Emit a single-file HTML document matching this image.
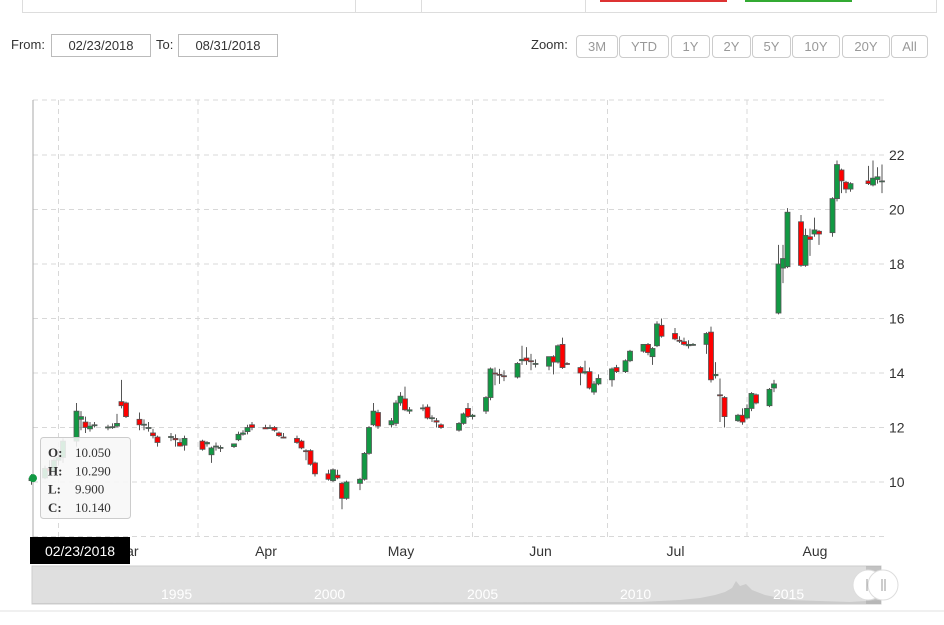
<!DOCTYPE html>
<html><head><meta charset="utf-8">
<style>
body{margin:0;background:#fff;font-family:"Liberation Sans",sans-serif;}
#wrap{position:relative;width:944px;height:625px;overflow:hidden;}
.inp{position:absolute;top:34px;height:21px;border:1px solid #bbb;font-size:13px;line-height:21px;text-align:center;color:#333;}
.lbl{position:absolute;top:37px;font-size:13px;color:#333;}
.zb{position:absolute;top:35px;height:21px;border:1px solid #ccc;border-radius:4px;font-size:13px;line-height:21px;text-align:center;color:#999;background:#fff;}
</style></head><body>
<div id="wrap">
<div style="position:absolute;left:22px;top:-2px;width:913px;height:14px;border:1px solid #ddd;border-top:none;background:#fff"></div>
<div style="position:absolute;left:355px;top:0;width:1px;height:12px;background:#ddd"></div>
<div style="position:absolute;left:421px;top:0;width:1px;height:12px;background:#ddd"></div>
<div style="position:absolute;left:585px;top:0;width:1px;height:12px;background:#ddd"></div>
<div style="position:absolute;left:600px;top:0;width:127px;height:2px;background:#d33"></div>
<div style="position:absolute;left:745px;top:0;width:107px;height:2px;background:#3a3"></div>

<div class="lbl" style="left:11px">From:</div>
<div class="inp" style="left:51px;width:98px">02/23/2018</div>
<div class="lbl" style="left:156px">To:</div>
<div class="inp" style="left:178px;width:98px">08/31/2018</div>
<div class="lbl" style="left:531px">Zoom:</div>
<div class="zb" style="left:576px;width:40px">3M</div>
<div class="zb" style="left:619px;width:48px">YTD</div>
<div class="zb" style="left:671px;width:37px">1Y</div>
<div class="zb" style="left:712px;width:37px">2Y</div>
<div class="zb" style="left:752px;width:37px">5Y</div>
<div class="zb" style="left:792px;width:46px">10Y</div>
<div class="zb" style="left:842px;width:46px">20Y</div>
<div class="zb" style="left:891px;width:35px">All</div>

<svg id="chart" width="944" height="625" style="position:absolute;left:0;top:0"></svg>
</div>
<script>
const dates=["02-23","02-26","02-27","02-28","03-01","03-02","03-05","03-06","03-07","03-08","03-09","03-12","03-13","03-14","03-15","03-16","03-19","03-20","03-21","03-22","03-23","03-26","03-27","03-28","03-29","04-02","04-03","04-04","04-05","04-06","04-09","04-10","04-11","04-12","04-13","04-16","04-17","04-18","04-19","04-20","04-23","04-24","04-25","04-26","04-27","04-30","05-01","05-02","05-03","05-04","05-07","05-08","05-09","05-10","05-11","05-14","05-15","05-16","05-17","05-18","05-21","05-22","05-23","05-24","05-25","05-29","05-30","05-31","06-01","06-04","06-05","06-06","06-07","06-08","06-11","06-12","06-13","06-14","06-15","06-18","06-19","06-20","06-21","06-22","06-25","06-26","06-27","06-28","06-29","07-02","07-03","07-05","07-06","07-09","07-10","07-11","07-12","07-13","07-16","07-17","07-18","07-19","07-20","07-23","07-24","07-25","07-26","07-27","07-30","07-31","08-01","08-02","08-03","08-06","08-07","08-08","08-09","08-10","08-13","08-14","08-15","08-16","08-17","08-20","08-21","08-22","08-23","08-24","08-28","08-29","08-30","08-31"];
const opens=[10.05,10.15,10.5,10.4,10.8,10.9,11.5,12.3,12.2,11.95,12.1,12.0,12.0,12.05,12.95,12.9,12.3,12.1,12.0,11.8,11.65,11.65,11.6,11.45,11.35,11.5,11.4,11.0,11.3,11.25,11.3,11.55,11.75,11.85,12.1,12.0,12.0,12.0,11.8,11.65,11.6,11.5,11.15,11.15,10.7,10.3,10.05,10.25,9.95,9.4,9.95,10.1,11.05,12.1,12.55,12.1,12.15,12.9,13.05,12.6,12.7,12.75,12.35,12.25,12.1,11.9,12.15,12.7,12.4,12.6,13.1,14.0,13.95,13.9,13.85,14.45,14.55,14.45,14.35,14.25,14.6,14.4,15.05,14.35,14.2,14.0,14.05,13.3,13.6,13.75,14.2,14.05,14.45,14.8,15.05,14.6,15.0,15.75,15.45,15.2,15.15,15.0,15.05,15.05,15.5,13.9,13.2,13.1,12.25,12.45,12.35,12.7,13.2,12.8,13.45,16.2,17.85,17.9,19.55,17.95,19.0,19.1,19.2,19.15,20.4,21.45,21.0,20.75,21.05,20.9,21.1,21.05];
const highs=[10.29,10.6,10.8,10.9,11.2,11.6,12.9,12.6,12.4,12.2,12.2,12.1,12.15,12.5,13.75,12.95,12.55,12.3,12.2,11.95,11.7,11.8,11.75,11.6,11.7,11.55,11.5,11.3,11.45,11.35,11.4,11.85,11.9,12.1,12.2,12.1,12.1,12.05,11.85,11.8,11.7,11.55,11.2,11.2,10.75,10.45,10.5,10.45,10.0,10.05,10.15,11.1,12.05,12.9,12.65,12.35,13.0,13.3,13.5,12.75,12.85,12.85,12.45,12.35,12.15,12.2,12.55,12.9,12.5,13.15,14.2,14.2,14.15,14.1,14.4,15.0,14.95,14.7,14.5,14.6,14.65,15.05,15.3,14.4,14.25,14.45,14.2,13.7,13.95,14.2,14.3,14.5,14.85,15.05,15.1,14.95,15.9,16.0,15.65,15.35,15.3,15.2,15.1,15.5,15.7,14.4,13.8,13.15,12.5,12.7,12.85,13.3,13.25,13.45,13.75,18.7,18.7,20.05,19.8,19.3,19.3,19.7,19.25,20.45,21.8,21.5,21.05,21.0,21.6,21.8,21.55,21.65];
const lows=[9.9,10.1,10.3,10.3,10.6,10.7,11.3,11.9,11.8,11.85,12.0,11.9,11.95,12.0,12.7,12.35,11.9,11.9,11.85,11.6,11.3,11.5,11.3,11.3,11.15,11.15,11.3,10.7,11.15,11.1,11.25,11.5,11.7,11.75,11.9,11.95,11.95,11.85,11.65,11.6,11.4,11.2,10.8,10.6,10.2,10.05,10.0,10.1,9.0,9.35,9.7,10.05,11.0,12.05,11.95,12.0,12.05,12.8,12.6,12.5,12.6,12.3,12.2,12.0,11.95,11.85,12.1,12.35,12.3,12.5,13.0,13.55,13.6,13.7,13.8,14.3,14.3,14.1,14.2,14.1,13.95,14.35,14.15,14.3,13.55,13.95,13.4,13.2,13.55,13.5,14.0,14.0,14.4,14.75,14.65,14.3,14.95,15.3,15.2,15.1,15.0,14.9,15.0,14.7,13.65,13.8,12.2,12.0,12.2,12.1,12.3,12.6,12.85,12.75,13.3,16.15,17.3,17.85,17.9,17.9,18.3,19.0,18.7,19.0,20.3,20.6,20.6,20.65,20.9,20.85,20.95,20.6];
const closes=[10.14,10.5,10.4,10.8,10.9,11.5,12.6,12.4,12.0,12.05,12.1,12.02,12.03,12.15,12.8,12.4,12.1,12.12,12.0,11.7,11.45,11.67,11.55,11.32,11.6,11.2,11.45,11.25,11.32,11.27,11.4,11.75,11.8,12.0,12.0,11.95,12.0,11.9,11.7,11.63,11.45,11.25,11.13,10.65,10.3,10.1,10.45,10.15,9.4,10.0,10.1,11.05,12.0,12.6,12.05,12.25,12.9,13.15,12.65,12.65,12.72,12.35,12.36,12.2,12.0,12.15,12.5,12.4,12.45,13.1,14.15,13.98,13.93,13.88,14.35,14.5,14.45,14.43,14.35,14.6,14.4,15.0,14.2,14.33,14.0,14.05,13.45,13.6,13.8,14.15,14.05,14.45,14.8,15.05,14.75,14.9,15.8,15.35,15.25,15.18,15.05,15.05,15.05,15.45,13.75,13.95,13.18,12.4,12.45,12.2,12.7,13.25,12.9,13.4,13.6,18.0,18.2,19.9,17.95,19.05,18.9,19.25,19.1,20.4,21.65,21.05,20.75,20.95,20.95,21.15,21.2,21.05];
const yTicks=[10,12,14,16,18,20,22];
const monthLabels=["Mar","Apr","May","Jun","Jul","Aug"];
const monthStarts=["03-01","04-01","05-01","06-01","07-01","08-01"];
const navYears=["1995","2000","2005","2010","2015"];

const NS="http://www.w3.org/2000/svg";
const svg=document.getElementById('chart');
function mk(tag,attrs,parent){const e=document.createElementNS(NS,tag);for(const k in attrs)e.setAttribute(k,attrs[k]);(parent||svg).appendChild(e);return e;}
function dayOf(s){const d=new Date("2018-"+s+"T00:00:00Z");return (d-new Date("2018-04-01T00:00:00Z"))/86400000;}
function x(s){return 198+dayOf(s)*4.5;}
function y(v){return 482-(v-10)*27.25;}
const L=33,R=884,T=100,B=537;

[8,10,12,14,16,18,20,22].forEach(v=>{const g=mk('line',{x1:L,x2:R,y1:y(v),y2:y(v),stroke:'#d8d8d8','stroke-dasharray':'5,4'});

});
mk('line',{x1:L,x2:R,y1:T,y2:T,stroke:'#d8d8d8','stroke-dasharray':'5,4'});
monthStarts.forEach(m=>{const g=mk('line',{x1:x(m),x2:x(m),y1:T,y2:B,stroke:'#d8d8d8','stroke-dasharray':'5,4'});

});
yTicks.forEach(v=>{const t=mk('text',{x:889,y:y(v)+5,'font-size':14,fill:'#333'});t.textContent=v;

});
monthLabels.forEach((m,i)=>{const xs=x(monthStarts[i])+68;const t=mk('text',{x:xs,y:556,'font-size':14,fill:'#333','text-anchor':'middle'});t.textContent=m;

});

mk('line',{x1:L,x2:L,y1:T,y2:B,stroke:'#aaa'});

for(let i=0;i<dates.length;i++){
 const cx=x(dates[i]);const up=closes[i]>=opens[i];
 const g=mk('g',{});
 
 
 mk('line',{x1:cx,x2:cx,y1:y(highs[i]),y2:y(lows[i]),stroke:'#555','stroke-width':1},g);
 const top=y(Math.max(opens[i],closes[i])),bot=y(Math.min(opens[i],closes[i]));
 mk('rect',{x:cx-2.5,y:top,width:5,height:Math.max(bot-top,1),fill:up?'#119943':'#ff0000',stroke:'#555','stroke-width':0.8},g);
}
const dot=mk('circle',{cx:L,cy:y(closes[0]),r:4,fill:'#119943'});



const tg=mk('g',{});


mk('rect',{x:40.5,y:437.5,width:90,height:81,rx:3,fill:'rgba(247,247,247,0.88)',stroke:'#ccc'},tg);
const tl=["O:","H:","L:","C:"],tv=[opens[0].toFixed(3),highs[0].toFixed(3),lows[0].toFixed(3),closes[0].toFixed(3)];
tl.forEach((l,i)=>{const a=mk('text',{x:48,y:457+i*18.3,'font-size':13,'font-weight':'bold',fill:'#333','font-family':'Liberation Serif'},tg);a.textContent=l;
const b=mk('text',{x:75,y:457+i*18.3,'font-size':13,fill:'#333','font-family':'Liberation Serif'},tg);b.textContent=tv[i];});

const dl=mk('g',{});


mk('rect',{x:30,y:537,width:100,height:27,fill:'#000'},dl);
const dt=mk('text',{x:80,y:556,'font-size':14,fill:'#fff','text-anchor':'middle'},dl);dt.textContent="02/23/2018";

const nav=mk('g',{});


mk('rect',{x:32,y:566,width:849,height:38,fill:'#dfdfdf',stroke:'#ccc'},nav);
mk('path',{d:'M32,603 L640,602 L680,600 L700,598 L715,595 L725,592 L732,588 L736,581 L740,586 L746,584 L752,590 L765,595 L790,600 L850,602 L881,600 L881,604 L32,604Z',fill:'#cbcbcb'},nav);
navYears.forEach((yr,i)=>{const t=mk('text',{x:161+i*153,y:599,'font-size':14,fill:'#fff'},nav);t.textContent=yr;

});
mk('rect',{x:866,y:566,width:15,height:38,fill:'#999',opacity:0.4},nav);
[868,883].forEach((hx,i)=>{const h=mk('g',{},nav);


mk('circle',{cx:hx,cy:585,r:15,fill:'#fff',stroke:'#ddd'},h);
mk('line',{x1:hx-1,x2:hx-1,y1:579,y2:591,stroke:'#999'},h);mk('line',{x1:hx+2,x2:hx+2,y1:579,y2:591,stroke:'#999'},h);});
mk('line',{x1:0,x2:944,y1:611,y2:611,stroke:'#e0e0e0'});
</script>
</body></html>
